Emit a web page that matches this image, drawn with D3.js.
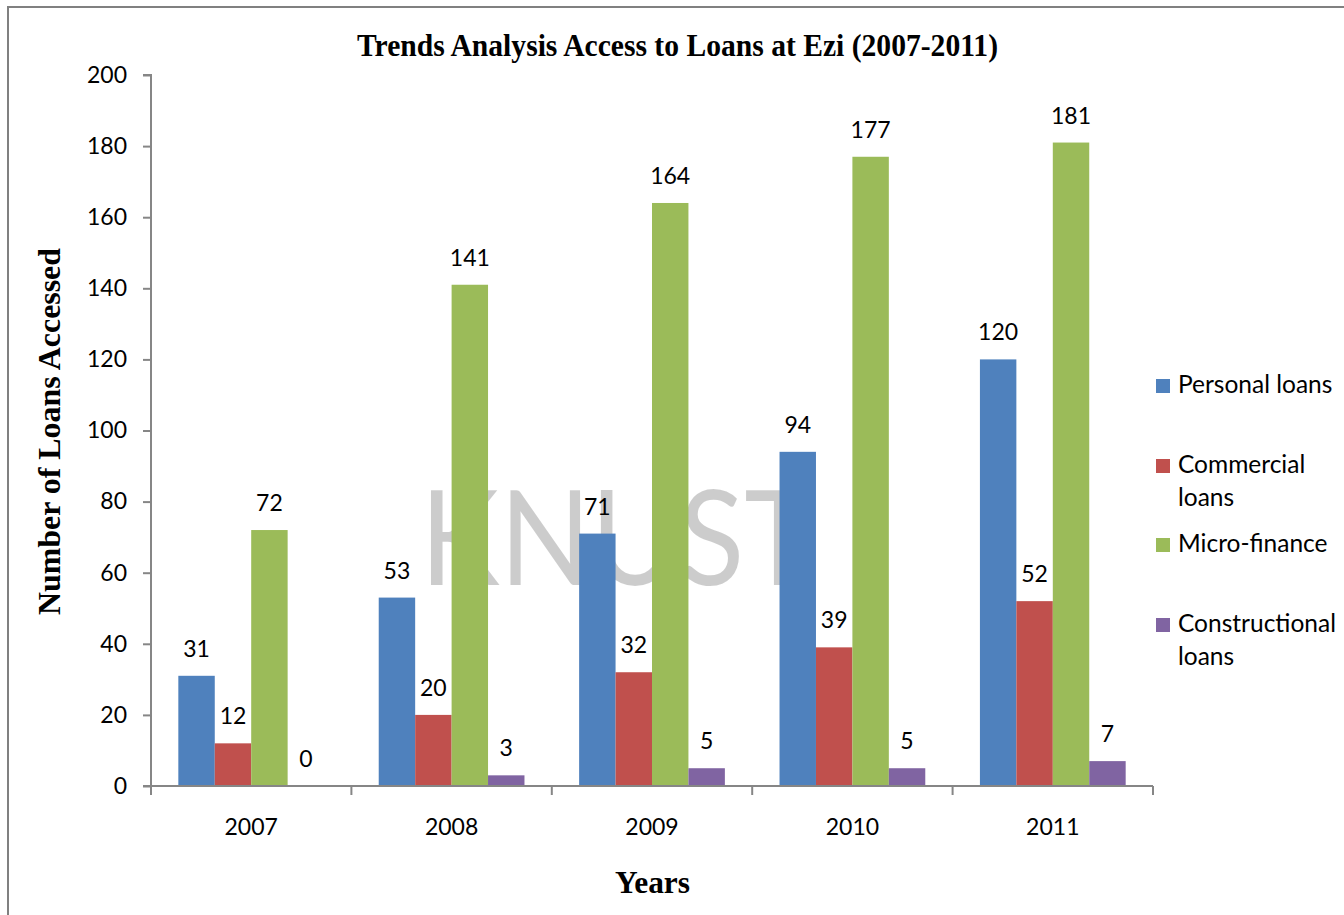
<!DOCTYPE html>
<html>
<head>
<meta charset="utf-8">
<script src="https://cdn.jsdelivr.net/npm/d3@7"></script>
<style>
  html, body { margin: 0; padding: 0; background: #fff; }
  svg { display: block; }
</style>
</head>
<body>
<div class="container"></div>
<script>
// data
const years = ["2007", "2008", "2009", "2010", "2011"];
const seriesNames = ["Personal loans", "Commercial loans", "Micro-finance", "Constructional loans"];
const personal = [31, 53, 71, 94, 120];
const commercial = [12, 20, 32, 39, 52];
const microFinance = [72, 141, 164, 177, 181];
const constructional = [0, 3, 5, 5, 7];
const yTicks = [0, 20, 40, 60, 80, 100, 120, 140, 160, 180, 200];

const width = 1344;
const height = 915;
const colors = ["#4F81BD", "#C0504D", "#9BBB59", "#8064A2"];
const legendLines = [["Personal loans"], ["Commercial", "loans"], ["Micro-finance"], ["Constructional", "loans"]];
const serif = "'Liberation Serif', 'Times New Roman', serif";
const sans = "Lato, 'Open Sans', sans-serif";
const axisColor = "#868686";

const allSeries = [personal, commercial, microFinance, constructional];
const rows = years.map((y, i) => ({
  year: y,
  values: allSeries.map((s, k) => ({ key: k, value: s[i] }))
}));

const svg = d3
  .select(".container")
  .append("svg")
  .attr("width", width)
  .attr("height", height);

// frame of the chart area
svg
  .append("rect")
  .attr("x", 8)
  .attr("y", 7)
  .attr("width", width + 20)
  .attr("height", height + 20)
  .attr("fill", "#fff")
  .attr("stroke", "#808080")
  .attr("stroke-width", 2);

const margin = { left: 151, right: 1153, top: 75, bottom: 786 };

const x = d3
  .scaleBand()
  .domain(years)
  .range([margin.left, margin.right]);

const xInner = d3
  .scaleBand()
  .domain(d3.range(seriesNames.length))
  .range([0, x.bandwidth()])
  .paddingInner(0)
  .paddingOuter(0.75);

const y = d3
  .scaleLinear()
  .domain([0, 200])
  .range([margin.bottom, margin.top]);

// watermark text
svg
  .append("text")
  .attr("x", 420)
  .attr("y", 585)
  .attr("font-family", sans)
  .attr("font-size", 132)
  .attr("textLength", 395)
  .attr("lengthAdjust", "spacingAndGlyphs")
  .attr("fill", "#000")
  .attr("fill-opacity", 0.2)
  .text("KNUST");

// bars
const group = svg
  .append("g")
  .selectAll("g")
  .data(rows)
  .join("g")
  .attr("transform", d => `translate(${x(d.year)},0)`);

group
  .selectAll("rect")
  .data(d => d.values)
  .join("rect")
  .attr("x", d => xInner(d.key))
  .attr("y", d => y(d.value))
  .attr("width", xInner.bandwidth())
  .attr("height", d => y(0) - y(d.value))
  .attr("fill", d => colors[d.key]);

group
  .selectAll("text")
  .data(d => d.values)
  .join("text")
  .attr("x", d => xInner(d.key) + xInner.bandwidth() / 2)
  .attr("y", d => y(d.value) - 19)
  .attr("text-anchor", "middle")
  .attr("font-family", sans)
  .attr("font-size", 23)
  .attr("fill", "#000")
  .text(d => d.value);

// y axis
const yAxis = svg
  .append("g")
  .attr("transform", `translate(${margin.left},0)`)
  .call(
    d3
      .axisLeft(y)
      .tickValues(yTicks)
      .tickSize(8)
      .tickPadding(16)
  );
yAxis.selectAll("path, line").attr("stroke", axisColor).attr("stroke-width", 2);
yAxis
  .selectAll("text")
  .attr("font-family", sans)
  .attr("font-size", 23)
  .attr("fill", "#000");
yAxis.select(".domain").attr("d", `M-8,${y(200)}H0V${y(0)}H-8`);

// x axis
const xAxis = svg
  .append("g")
  .attr("transform", `translate(0,${margin.bottom})`)
  .call(d3.axisBottom(x).tickSize(0).tickPadding(33));
xAxis.select(".domain").attr("d", `M${margin.left},0H${margin.right}`);
xAxis.selectAll("path").attr("stroke", axisColor).attr("stroke-width", 2);
xAxis
  .selectAll("text")
  .attr("font-family", sans)
  .attr("font-size", 23)
  .attr("fill", "#000");
xAxis
  .append("g")
  .selectAll("line")
  .data(years.concat(["end"]))
  .join("line")
  .attr("x1", d => (d === "end" ? margin.right : x(d)))
  .attr("x2", d => (d === "end" ? margin.right : x(d)))
  .attr("y1", 0)
  .attr("y2", 9)
  .attr("stroke", axisColor)
  .attr("stroke-width", 2);

// titles
svg
  .append("text")
  .attr("x", 357)
  .attr("y", 56)
  .attr("font-family", serif)
  .attr("font-weight", "bold")
  .attr("font-size", 32)
  .attr("textLength", 641)
  .attr("lengthAdjust", "spacingAndGlyphs")
  .text("Trends Analysis Access to Loans at Ezi (2007-2011)");

svg
  .append("text")
  .attr("transform", "translate(60,615) rotate(-90)")
  .attr("font-family", serif)
  .attr("font-weight", "bold")
  .attr("font-size", 32)
  .attr("textLength", 367)
  .attr("lengthAdjust", "spacingAndGlyphs")
  .text("Number of Loans Accessed");

svg
  .append("text")
  .attr("x", 615)
  .attr("y", 893)
  .attr("font-family", serif)
  .attr("font-weight", "bold")
  .attr("font-size", 32)
  .attr("textLength", 75)
  .attr("lengthAdjust", "spacingAndGlyphs")
  .text("Years");

// legend
const legendY = [393, 473, 552, 632];
const legend = svg
  .append("g")
  .selectAll("g")
  .data(seriesNames)
  .join("g")
  .attr("transform", (d, i) => `translate(1156,${legendY[i]})`);

legend
  .append("rect")
  .attr("x", 0)
  .attr("y", -14)
  .attr("width", 14)
  .attr("height", 14)
  .attr("fill", (d, i) => colors[i]);

legend
  .append("text")
  .attr("font-family", sans)
  .attr("font-size", 24.5)
  .attr("fill", "#000")
  .selectAll("tspan")
  .data((d, i) => legendLines[i])
  .join("tspan")
  .attr("x", 22)
  .attr("y", (d, j) => j * 33)
  .text(d => d);
</script>
</body>
</html>
